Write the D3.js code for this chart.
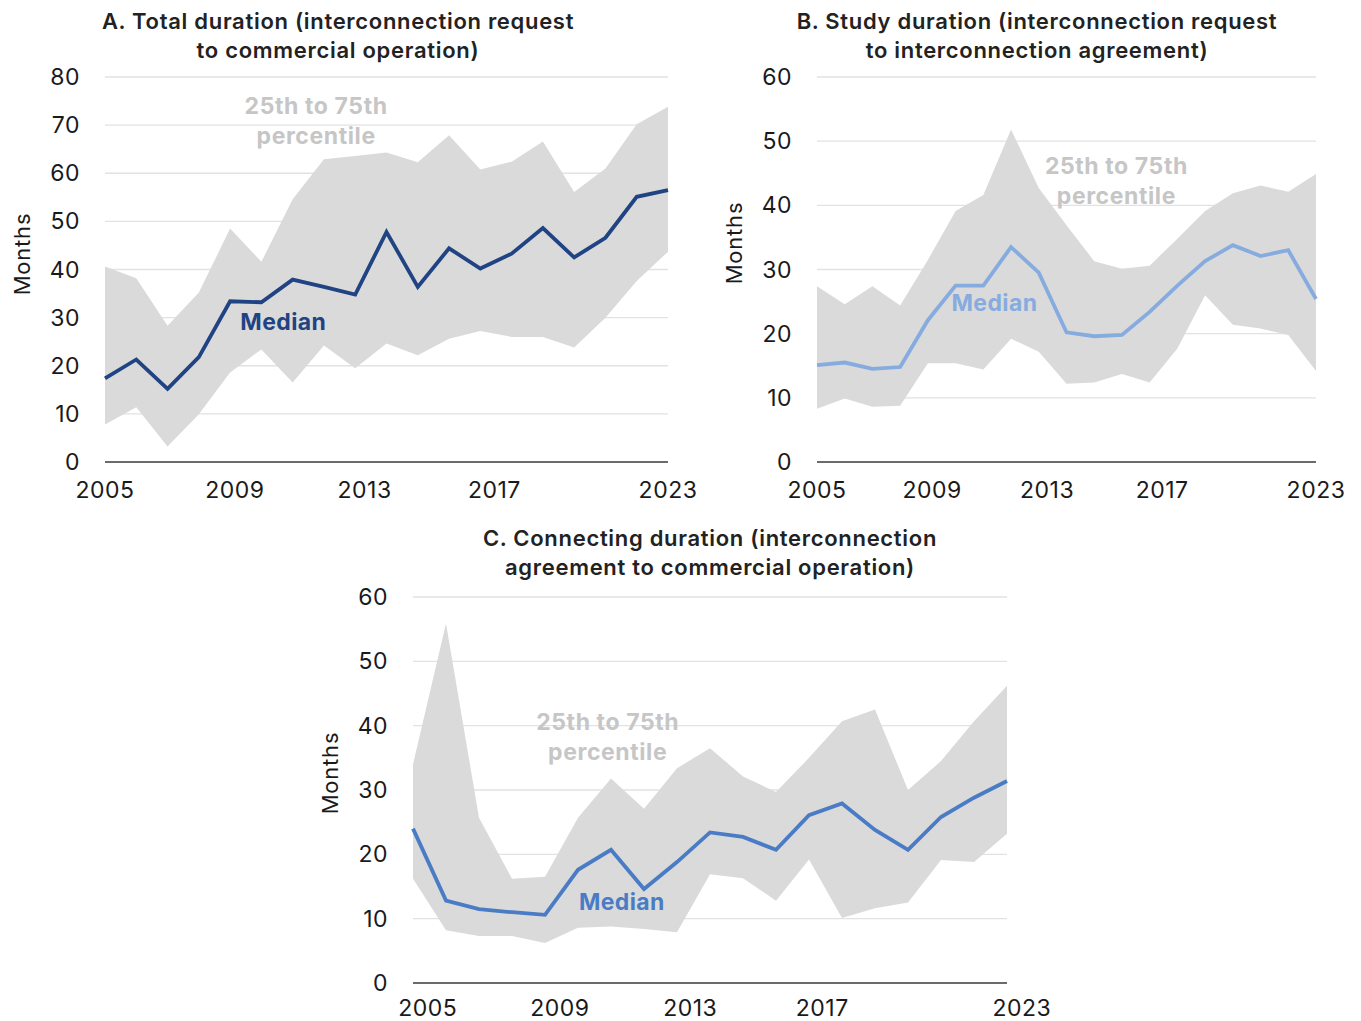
<!DOCTYPE html>
<html>
<head>
<meta charset="utf-8">
<script src="https://cdn.jsdelivr.net/npm/d3@7"></script>
<style>
  body { margin: 0; background: #fff; }
  svg { font-family: Inter, "Noto Sans", sans-serif; }
</style>
</head>
<body>
<svg id="chart" width="1361" height="1021"></svg>
<script>
// years 2005..2023
var years = d3.range(2005, 2024);
var xTickLabels = ["2005", "2009", "2013", "2017", "2023"];

// A. total duration
var medianA = [17.4, 21.3, 15.2, 21.8, 33.4, 33.2, 37.9, 36.4, 34.8, 47.8, 36.4, 44.4, 40.2, 43.3, 48.6, 42.5, 46.6, 55.1, 56.5];
var p75A    = [40.6, 38.2, 28.3, 35.2, 48.5, 41.6, 54.6, 62.9, 63.6, 64.3, 62.3, 67.9, 60.8, 62.4, 66.6, 56.1, 61.0, 70.2, 73.8];
var p25A    = [7.8, 11.4, 3.2, 9.9, 18.6, 23.4, 16.5, 24.2, 19.5, 24.6, 22.2, 25.6, 27.2, 26.0, 26.0, 23.8, 30.0, 37.6, 43.7];

// B. study duration
var medianB = [15.1, 15.5, 14.5, 14.8, 22.1, 27.5, 27.5, 33.5, 29.5, 20.2, 19.6, 19.8, 23.4, 27.5, 31.3, 33.8, 32.1, 33.0, 25.4];
var p75B    = [27.4, 24.6, 27.4, 24.4, 31.5, 39.1, 41.6, 51.8, 42.7, 36.9, 31.3, 30.1, 30.6, 34.8, 39.1, 41.9, 43.1, 42.1, 44.9];
var p25B    = [8.3, 9.9, 8.6, 8.75, 15.4, 15.4, 14.4, 19.2, 17.2, 12.2, 12.4, 13.7, 12.4, 17.7, 26.0, 21.4, 20.8, 19.8, 14.2];

// C. connecting duration
var medianC = [24.0, 12.8, 11.5, 11.0, 10.6, 17.6, 20.7, 14.6, 18.8, 23.4, 22.7, 20.7, 26.1, 27.9, 23.8, 20.7, 25.8, 28.8, 31.4];
var p75C    = [34.0, 55.9, 25.7, 16.2, 16.5, 25.7, 31.8, 27.1, 33.4, 36.5, 32.1, 29.7, 35.0, 40.7, 42.5, 30.0, 34.5, 40.7, 46.2];
var p25C    = [16.2, 8.2, 7.3, 7.3, 6.2, 8.6, 8.8, 8.4, 7.9, 16.9, 16.3, 12.8, 19.2, 10.1, 11.6, 12.5, 19.1, 18.8, 23.2];

var panels = [
  { title: ["A. Total duration (interconnection request", "to commercial operation)"],
    median: medianA, lo: p25A, hi: p75A, yMax: 80, color: "#1f4383",
    x0: 105, x1: 668, yTop: 77, yBot: 462, titleX: 338, titleY: 21,
    tickYears: [2005, 2009.15, 2013.3, 2017.45, 2023], tickDy: 28, monthsY: 254,
    bandLabel: [2011.75, 74], medLabel: [2010.7, 29.1] },
  { title: ["B. Study duration (interconnection request", "to interconnection agreement)"],
    median: medianB, lo: p25B, hi: p75B, yMax: 60, color: "#86acdf",
    x0: 817, x1: 1316, yTop: 77, yBot: 462, titleX: 1037, titleY: 21,
    tickYears: [2005, 2009.15, 2013.3, 2017.45, 2023], tickDy: 28, monthsY: 243,
    bandLabel: [2015.8, 46.1], medLabel: [2011.4, 24.8] },
  { title: ["C. Connecting duration (interconnection", "agreement to commercial operation)"],
    median: medianC, lo: p25C, hi: p75C, yMax: 60, color: "#4a7cc5",
    x0: 413, x1: 1007, yTop: 597, yBot: 983, titleX: 710, titleY: 538,
    tickYears: [2005.45, 2009.45, 2013.4, 2017.4, 2023.45], tickDy: 25, monthsY: 773,
    bandLabel: [2010.9, 40.6], medLabel: [2011.33, 12.6] }
];

var svg = d3.select("#chart");

panels.forEach(function(p) {
  var x = d3.scaleLinear().domain([2005, 2023]).range([p.x0, p.x1]);
  var y = d3.scaleLinear().domain([0, p.yMax]).range([p.yBot, p.yTop]);
  var g = svg.append("g");

  // gridlines
  var yTicks = d3.range(0, p.yMax + 1, 10);
  g.selectAll(".grid").data(yTicks.slice(1)).enter().append("line")
    .attr("x1", p.x0).attr("x2", p.x1)
    .attr("y1", function(d) { return y(d); }).attr("y2", function(d) { return y(d); })
    .attr("stroke", "#e2e2e2").attr("stroke-width", 1.3);

  // band 25th-75th
  var area = d3.area()
    .x(function(d, i) { return x(years[i]); })
    .y0(function(d, i) { return y(p.lo[i]); })
    .y1(function(d, i) { return y(p.hi[i]); });
  g.append("path").datum(p.hi).attr("d", area).attr("fill", "#dbdada");

  // zero axis
  g.append("line").attr("x1", p.x0).attr("x2", p.x1)
    .attr("y1", y(0)).attr("y2", y(0))
    .attr("stroke", "#3a3a3a").attr("stroke-width", 1.6);

  // median line
  var line = d3.line()
    .x(function(d, i) { return x(years[i]); })
    .y(function(d) { return y(d); });
  g.append("path").datum(p.median).attr("d", line)
    .attr("fill", "none").attr("stroke", p.color)
    .attr("stroke-width", 3.8).attr("stroke-linejoin", "miter");

  // y tick labels
  g.selectAll(".ytick").data(yTicks).enter().append("text")
    .attr("x", p.x0 - 25).attr("y", function(d) { return y(d); })
    .attr("dy", "0.35em").attr("text-anchor", "end")
    .style("font-size", "23px").style("letter-spacing", "0.5px").style("fill", "#1a1a1a")
    .text(function(d) { return d; });

  // x tick labels
  g.selectAll(".xtick").data(xTickLabels).enter().append("text")
    .attr("x", function(d, i) { return x(p.tickYears[i]); })
    .attr("y", p.yBot + p.tickDy).attr("dy", "0.35em").attr("text-anchor", "middle")
    .style("font-size", "23px").style("letter-spacing", "0.5px").style("fill", "#1a1a1a")
    .text(function(d) { return d; });

  // y axis title
  g.append("text")
    .attr("transform", "translate(" + (p.x0 - 83) + "," + p.monthsY + ") rotate(-90)")
    .attr("text-anchor", "middle").attr("dy", "0.35em")
    .style("font-size", "22px").style("letter-spacing", "0.8px").style("fill", "#1a1a1a")
    .text("Months");

  // title
  g.selectAll(".title").data(p.title).enter().append("text")
    .attr("x", p.titleX).attr("y", function(d, i) { return p.titleY + i * 29; })
    .attr("dy", "0.35em").attr("text-anchor", "middle")
    .style("font-size", "22px").style("letter-spacing", "0.7px")
    .style("font-weight", 600).style("fill", "#222")
    .text(function(d) { return d; });

  // annotations
  g.selectAll(".band").data(["25th to 75th", "percentile"]).enter().append("text")
    .attr("x", x(p.bandLabel[0]))
    .attr("y", function(d, i) { return y(p.bandLabel[1]) + i * 30; })
    .attr("dy", "0.35em").attr("text-anchor", "middle")
    .style("font-size", "23px").style("letter-spacing", "0.6px")
    .style("font-weight", 700).style("fill", "#c6c6c6")
    .text(function(d) { return d; });

  g.append("text")
    .attr("x", x(p.medLabel[0])).attr("y", y(p.medLabel[1]))
    .attr("dy", "0.35em").attr("text-anchor", "middle")
    .style("font-size", "23px").style("letter-spacing", "0.4px")
    .style("font-weight", 700).style("fill", p.color)
    .text("Median");
});
</script>
</body>
</html>
